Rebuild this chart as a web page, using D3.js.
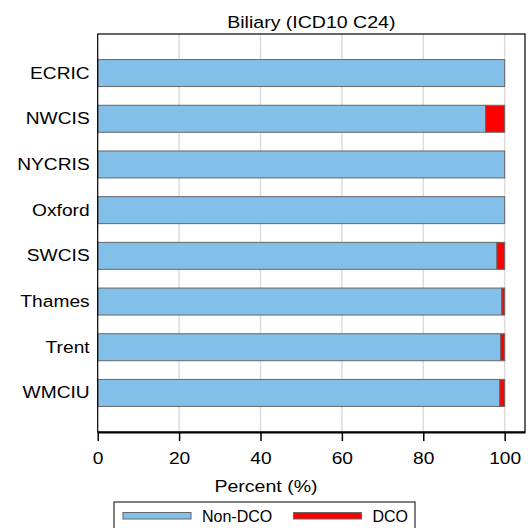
<!DOCTYPE html>
<html lang="en">
<head>
    <meta charset="utf-8">
    <title>Biliary (ICD10 C24)</title>
    <script src="https://cdn.jsdelivr.net/npm/d3@7/dist/d3.min.js"></script>
    <style>
        body { margin: 0; background: #fff; }
        text { font-family: "Liberation Sans", Arial, sans-serif; fill: #000; }
    </style>
</head>
<body>
<div id="chart"></div>
<script>
    // Data
    var regions = ['ECRIC', 'NWCIS', 'NYCRIS', 'Oxford', 'SWCIS', 'Thames', 'Trent', 'WMCIU'];
    var nonDco = [100, 95.3, 100, 100, 98.1, 99.3, 99.0, 98.8];
    var dco = [0, 4.7, 0, 0, 1.9, 0.7, 1.0, 1.2];
    var xTicks = [0, 20, 40, 60, 80, 100];
    var seriesNames = ['Non-DCO', 'DCO'];
    var seriesColors = ['#82bfe9', '#ff0000'];

    var width = 528,
        height = 528,
        plotLeft = 97.7, plotRight = 525, plotTop = 34, plotBottom = 432;

    // text in the picture is a bit wider than plain Arial
    var stretchX = 1.13;

    function stretch(selection, sx) {
        selection.each(function() {
            var t = d3.select(this),
                tx = +t.attr('x') || 0;
            t.attr('transform', 'translate(' + tx + ',0) scale(' + sx + ',1) translate(' + (-tx) + ',0)');
        });
    }

    var svg = d3.select('#chart').append('svg')
        .attr('width', width)
        .attr('height', height);

    var x = d3.scaleLinear().domain([0, 105]).range([plotLeft, plotRight]);
    var y = d3.scaleBand().domain(regions).range([plotTop, plotBottom])
        .paddingInner(0.41).paddingOuter(0.56);

    // grid
    svg.append('g').selectAll('line')
        .data(xTicks.slice(1))
        .enter().append('line')
        .attr('x1', function(d) { return x(d); })
        .attr('x2', function(d) { return x(d); })
        .attr('y1', plotTop).attr('y2', plotBottom)
        .attr('stroke', '#dcdcdc').attr('stroke-width', 1.5);

    // stacked bars
    var rows = regions.map(function(r, i) {
        return { region: r, parts: [[0, nonDco[i]], [nonDco[i], nonDco[i] + dco[i]]] };
    });

    var bars = svg.append('g').selectAll('g')
        .data(rows)
        .enter().append('g');

    bars.selectAll('rect')
        .data(function(d) {
            return d.parts.map(function(p, k) { return { region: d.region, p: p, k: k }; })
                .filter(function(e) { return e.p[1] > e.p[0]; });
        })
        .enter().append('rect')
        .attr('x', function(d) { return x(d.p[0]); })
        .attr('width', function(d) { return x(d.p[1]) - x(d.p[0]); })
        .attr('y', function(d) { return y(d.region); })
        .attr('height', y.bandwidth())
        .attr('fill', function(d) { return seriesColors[d.k]; })
        .attr('stroke', '#666').attr('stroke-width', 1);

    // frame
    svg.append('rect')
        .attr('x', plotLeft).attr('y', plotTop)
        .attr('width', plotRight - plotLeft).attr('height', plotBottom - plotTop)
        .attr('fill', 'none').attr('stroke', '#000').attr('stroke-width', 1.2);

    // x axis
    var xAxis = d3.axisBottom(x).tickValues(xTicks).tickSize(9).tickSizeOuter(0).tickPadding(11);
    var gx = svg.append('g')
        .attr('transform', 'translate(0,' + plotBottom + ')')
        .call(xAxis);
    gx.select('.domain').attr('stroke-width', 2);
    gx.selectAll('.tick line').attr('stroke-width', 1.5);
    gx.selectAll('text').style('font-size', '17px')
        .style('font-family', '"Liberation Sans", Arial, sans-serif')
        .call(stretch, stretchX);

    // y axis labels
    var gy = svg.append('g')
        .attr('transform', 'translate(' + plotLeft + ',0)')
        .call(d3.axisLeft(y).tickSize(0).tickPadding(8));
    gy.select('.domain').remove();
    gy.selectAll('text').style('font-size', '17px')
        .style('font-family', '"Liberation Sans", Arial, sans-serif')
        .call(stretch, stretchX);

    // titles
    svg.append('text')
        .attr('x', (plotLeft + plotRight) / 2).attr('y', 28)
        .attr('text-anchor', 'middle')
        .style('font-size', '17px')
        .text('Biliary (ICD10 C24)')
        .call(stretch, 1.15);

    svg.append('text')
        .attr('x', 266).attr('y', 492)
        .attr('text-anchor', 'middle')
        .style('font-size', '17px')
        .text('Percent (%)')
        .call(stretch, 1.15);

    // legend
    var legend = svg.append('g');
    legend.append('rect')
        .attr('x', 114).attr('y', 502)
        .attr('width', 301).attr('height', 40)
        .attr('fill', 'none').attr('stroke', '#000').attr('stroke-width', 1);

    var keyX = [123, 293.5];
    var items = legend.selectAll('g.item')
        .data(seriesNames)
        .enter().append('g')
        .attr('class', 'item')
        .attr('transform', function(d, i) { return 'translate(' + keyX[i] + ',0)'; });

    items.append('rect')
        .attr('x', 0).attr('y', 512.5)
        .attr('width', 68).attr('height', 6.5)
        .attr('fill', function(d, i) { return seriesColors[i]; })
        .attr('stroke', '#666').attr('stroke-width', 1);

    items.append('text')
        .attr('x', 79).attr('y', 522)
        .style('font-size', '16px')
        .text(function(d) { return d; });
</script>
</body>
</html>
